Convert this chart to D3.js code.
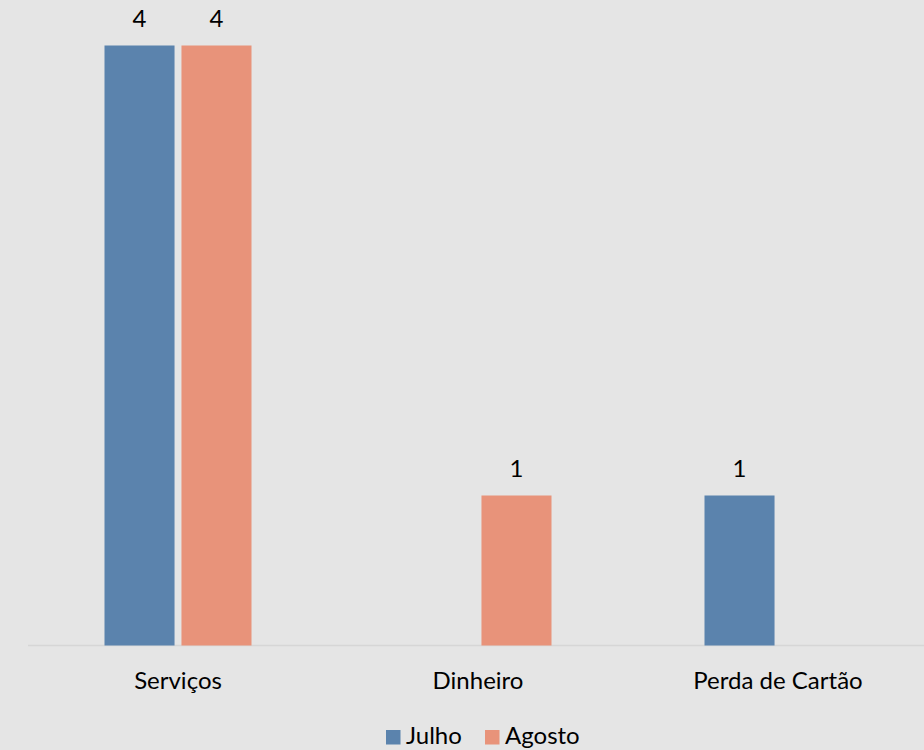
<!DOCTYPE html>
<html>
<head>
<meta charset="utf-8">
<script src="https://cdn.jsdelivr.net/npm/d3@7"></script>
<style>
  html, body { margin: 0; padding: 0; background: #e5e5e5; }
  svg { display: block; }
  text { font-family: Lato, "Open Sans", sans-serif; fill: #000; }
</style>
</head>
<body>
<div id="chart"></div>
<script>
// Occurrences per category, July vs August
const categories = ["Serviços", "Dinheiro", "Perda de Cartão"];
const seriesNames = ["Julho", "Agosto"];
const julho = [4, 0, 1];
const agosto = [4, 1, 0];
const seriesColors = ["#5b83ad", "#e8937a"];

const W = 924, H = 750;
const FS = 24;
const svg = d3.select("#chart").append("svg").attr("width", W).attr("height", H);
svg.append("rect").attr("width", W).attr("height", H).attr("fill", "#e5e5e5");

const baseY = 645.5, topY = 45.5;
const x = d3.scaleBand().domain(categories).range([28, 928]);
const xs = d3.scaleBand().domain(seriesNames).range([-73.5, 73.5]).paddingInner(0.09);
const y = d3.scaleLinear().domain([0, 4]).range([baseY, topY]);

const rows = categories.map((c, i) => ({ cat: c, values: [julho[i], agosto[i]] }));

// baseline
svg.append("line")
  .attr("x1", 28).attr("x2", W).attr("y1", baseY).attr("y2", baseY)
  .attr("stroke", "#d6d6d6").attr("stroke-width", 1.5);

const g = svg.selectAll("g.cat").data(rows).join("g")
  .attr("class", "cat")
  .attr("transform", d => `translate(${x(d.cat) + x.bandwidth() / 2},0)`);

const bars = g.selectAll("g.bar")
  .data(d => d.values.map((v, k) => ({ v, name: seriesNames[k], color: seriesColors[k] })).filter(e => e.v > 0))
  .join("g").attr("class", "bar");

bars.append("rect")
  .attr("x", d => xs(d.name))
  .attr("width", xs.bandwidth())
  .attr("y", d => y(d.v))
  .attr("height", d => y(0) - y(d.v))
  .attr("fill", d => d.color);

bars.append("text")
  .attr("x", d => xs(d.name) + xs.bandwidth() / 2)
  .attr("y", d => y(d.v) - 18.5)
  .attr("text-anchor", "middle")
  .attr("font-size", FS)
  .text(d => d.v);

// category axis labels
const xAxis = d3.axisBottom(x).tickSize(0).tickPadding(0);
const axG = svg.append("g").attr("transform", `translate(0,${baseY})`).call(xAxis);
axG.select(".domain").remove();
axG.selectAll("text").attr("font-size", FS).attr("font-family", "Lato, sans-serif").attr("dy", 0).attr("y", 43);

// legend
const legend = svg.append("g").attr("transform", "translate(386,730)");
const legX = [0, 99];
seriesNames.forEach((n, k) => {
  const lg = legend.append("g").attr("transform", `translate(${legX[k]},0)`);
  lg.append("rect").attr("width", 14.5).attr("height", 14.5).attr("fill", seriesColors[k]);
  lg.append("text").attr("x", 20).attr("y", 14).attr("font-size", FS).text(n);
});
</script>
</body>
</html>
